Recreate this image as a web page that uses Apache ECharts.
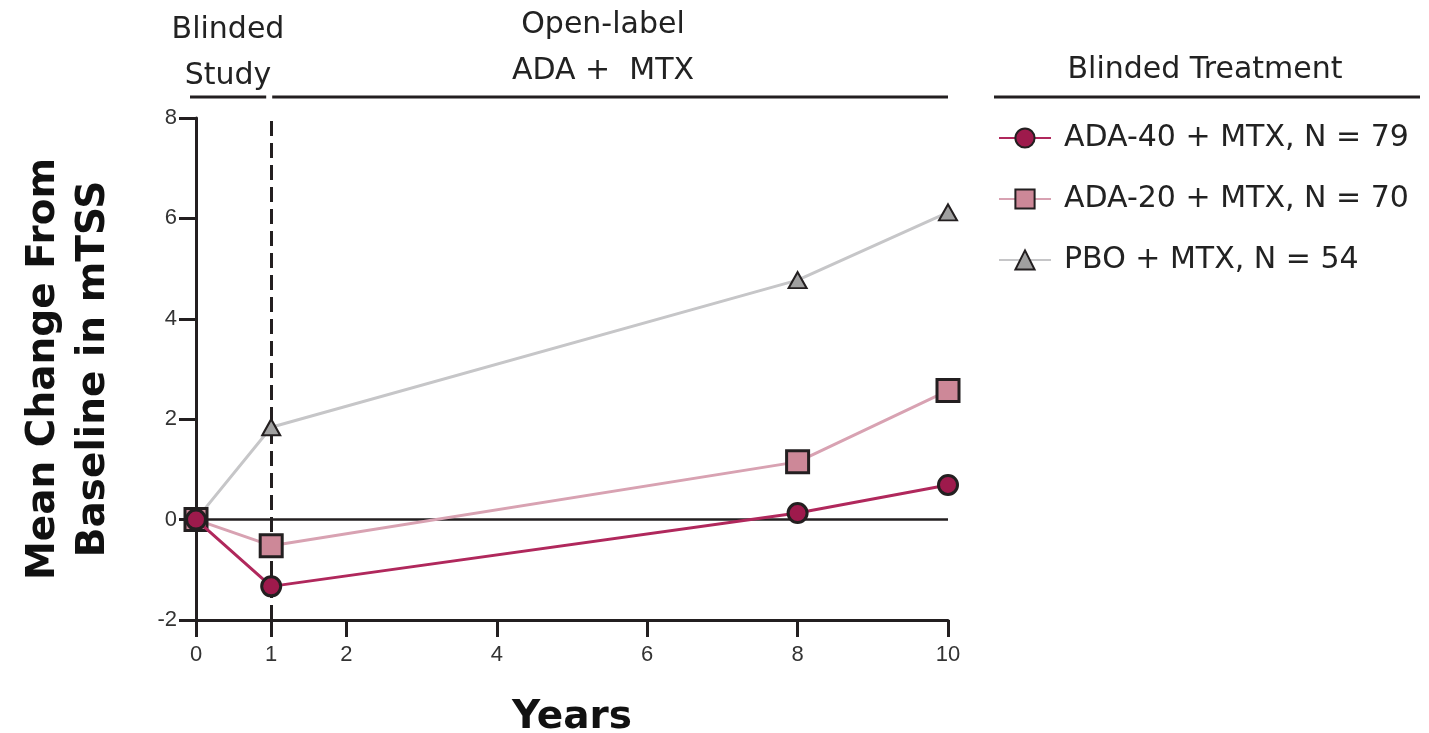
<!DOCTYPE html>
<html><head><meta charset="utf-8">
<script src="https://cdn.jsdelivr.net/npm/echarts@6/dist/echarts.min.js"></script>
<style>html,body{margin:0;padding:0;background:#fff}#c{width:1429px;height:733px}</style>
</head><body><div id="c"></div>
<script>
const years = [0, 1, 8, 10];
const ada40 = [0, -1.33, 0.13, 0.69];
const ada20 = [0, -0.52, 1.15, 2.57];
const pbo = [0, 1.84, 4.77, 6.12];
const xTicks = [0, 1, 2, 4, 6, 8, 10];
const names = ['ADA-40 + MTX, N = 79', 'ADA-20 + MTX, N = 70', 'PBO + MTX, N = 54'];
const F = '"DejaVu Sans", "Liberation Sans", Arial, sans-serif';
const FL = '"Liberation Sans", Arial, sans-serif';

const chart = echarts.init(document.getElementById('c'));
const pair = a => years.map((x, i) => [x, a[i]]);
chart.setOption({
  animation: false,
  grid: { left: 196, right: 481, top: 118, bottom: 113, outerBoundsMode: 'none', containLabel: false },
  xAxis: {
    type: 'value', min: 0, max: 10,
    name: 'Years', nameLocation: 'middle', nameGap: 78,
    nameTextStyle: { fontFamily: F, fontSize: 39, fontWeight: 'bold', color: '#111' },
    axisLine: { onZero: false, lineStyle: { color: '#231f20', width: 3 } },
    axisTick: { show: true, length: 17, lineStyle: { width: 3, color: '#231f20' }, customValues: xTicks },
    axisLabel: { customValues: xTicks, fontFamily: FL, fontSize: 22, color: '#333', margin: 24 },
    splitLine: { show: false }
  },
  yAxis: {
    type: 'value', min: -2, max: 8, interval: 2,
    name: 'Mean Change From\nBaseline in mTSS', nameLocation: 'middle', nameGap: 77, nameRotate: 90,
    nameTextStyle: { fontFamily: F, fontSize: 39, fontWeight: 'bold', color: '#111', lineHeight: 50 },
    axisLine: { show: true, lineStyle: { color: '#231f20', width: 3 } },
    axisTick: { show: true, length: 17, lineStyle: { width: 3, color: '#231f20' } },
    axisLabel: { fontFamily: FL, fontSize: 22, color: '#333', margin: 19 },
    splitLine: { show: false }
  },
  legend: {
    orient: 'vertical', left: 998, top: 123, padding: 0, itemGap: 31, itemWidth: 52, itemHeight: 24,
    textStyle: { fontFamily: F, fontSize: 30, lineHeight: 30, color: '#222', padding: [0, 0, 0, 8] },
    data: names
  },
  series: [
    { name: names[2], type: 'line', data: pair(pbo), z: 3,
      symbol: 'triangle', symbolSize: [18, 16],
      lineStyle: { color: '#c6c6c8', width: 3 },
      itemStyle: { color: '#a0a0a0', borderColor: '#231f20', borderWidth: 2 } },
    { name: names[1], type: 'line', data: pair(ada20), z: 4,
      symbol: 'rect', symbolSize: 22,
      lineStyle: { color: '#d8a2b2', width: 3 },
      itemStyle: { color: '#cd8898', borderColor: '#231f20', borderWidth: 3 } },
    { name: names[0], type: 'line', data: pair(ada40), z: 5,
      symbol: 'circle', symbolSize: 19,
      lineStyle: { color: '#b0285c', width: 3 },
      itemStyle: { color: '#9e1a4c', borderColor: '#231f20', borderWidth: 3 },
      markLine: {
        silent: true, symbol: 'none', label: { show: false }, z: 2,
        data: [
          { yAxis: 0, lineStyle: { type: 'solid', color: '#231f20', width: 2.5 } },
          { xAxis: 1, lineStyle: { type: [15, 7], color: '#231f20', width: 3 } }
        ]
      } }
  ]
});

const p = (x, y) => chart.convertToPixel({ gridIndex: 0 }, [x, y]);
const x0 = p(0, 0)[0], x1 = p(1, 0)[0], x10 = p(10, 0)[0];
const bracketY = 97;
chart.setOption({
  graphic: [
    { type: 'line', shape: { x1: x0 - 6, y1: bracketY, x2: x1 - 5, y2: bracketY }, style: { stroke: '#231f20', lineWidth: 3 } },
    { type: 'line', shape: { x1: x1 + 1, y1: bracketY, x2: x10, y2: bracketY }, style: { stroke: '#231f20', lineWidth: 3 } },
    { type: 'line', shape: { x1: 994, y1: bracketY, x2: 1420, y2: bracketY }, style: { stroke: '#231f20', lineWidth: 3 } },
    { type: 'text', x: 228, y: 53, style: { text: 'Blinded\nStudy', fontFamily: F, fontSize: 30, lineHeight: 46, fill: '#222', align: 'center', verticalAlign: 'middle' } },
    { type: 'text', x: 603, y: 48, style: { text: 'Open-label\nADA +  MTX', fontFamily: F, fontSize: 30, lineHeight: 46, fill: '#222', align: 'center', verticalAlign: 'middle' } },
    { type: 'text', x: 1205, y: 70, style: { text: 'Blinded Treatment', fontFamily: F, fontSize: 30, fill: '#222', align: 'center', verticalAlign: 'middle' } }
  ]
});
</script></body></html>
